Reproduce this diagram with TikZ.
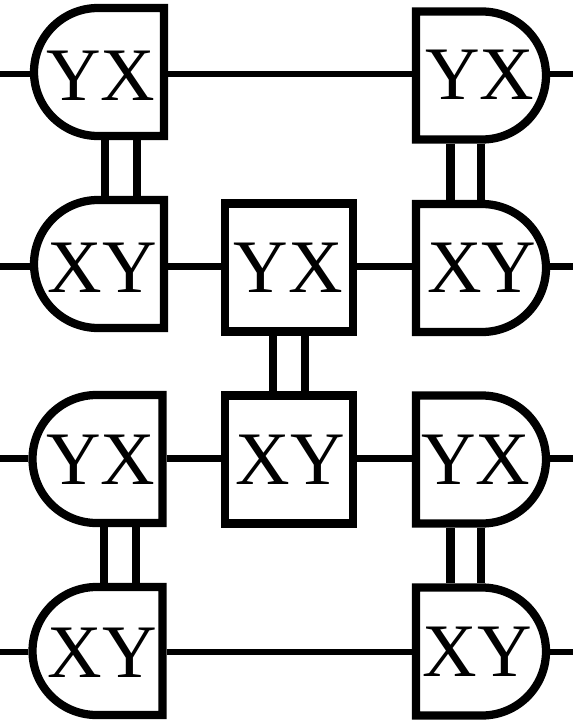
\documentclass[tikz,border=0pt]{standalone}
\usepackage{fontspec}
\setmainfont{Liberation Serif}
\usetikzlibrary{positioning, shapes.misc}

\begin{document}
\begin{tikzpicture}[
    gate/.style={draw, line width=0.165cm, inner sep=0pt, minimum height=2.56cm},
    sqgate/.style={gate, rectangle, minimum width=2.56cm},
    lgate/.style={gate, rounded rectangle, rounded rectangle right arc=none,
                  minimum width=2.60cm},
    rgate/.style={gate, rounded rectangle, rounded rectangle left arc=none,
                  minimum width=2.60cm},
    gatetext/.style={inner sep=0pt, font=\fontsize{43}{43}\selectfont},
    wire/.style={line width=0.125cm},
    bond/.style={line width=0.165cm}
  ]
  \useasboundingbox (0, 0) rectangle (11.46, -14.46);

  % Left column
  \node[lgate] (l1) at (1.98, -1.44) {};
  \node[lgate] (l2) at (1.98, -5.28) {};
  \node[lgate] (l3) at (1.95, -9.18) {};
  \node[lgate] (l4) at (1.95, -13.02) {};

  % Middle column
  \node[sqgate] (m2) at (5.78, -5.35) {};
  \node[sqgate] (m3) at (5.78, -9.19) {};

  % Right column
  \node[rgate] (r1) at (9.62, -1.51) {};
  \node[rgate] (r2) at (9.62, -5.36) {};
  \node[rgate] (r3) at (9.62, -9.19) {};
  \node[rgate] (r4) at (9.62, -13.03) {};

  % Gate labels
  \node[gatetext] (tl1) at (2.02, -1.52) {YX};
  \node[gatetext] (tl2) at (2.05, -5.36) {XY};
  \node[gatetext] (tl3) at (2.02, -9.20) {YX};
  \node[gatetext] (tl4) at (2.05, -13.05) {XY};
  \node[gatetext] (tm2) at (5.77, -5.36) {YX};
  \node[gatetext] (tm3) at (5.81, -9.20) {XY};
  \node[gatetext] (tr1) at (9.60, -1.50) {YX};
  \node[gatetext] (tr2) at (9.64, -5.36) {XY};
  \node[gatetext] (tr3) at (9.52, -9.20) {YX};
  \node[gatetext] (tr4) at (9.55, -13.04) {XY};

  % Free wire ends
  \coordinate (a1) at (0, -1.48);
  \coordinate (a2) at (0, -5.33);
  \coordinate (a3) at (0, -9.17);
  \coordinate (a4) at (0, -13.04);
  \coordinate (b1) at (11.46, -1.48);
  \coordinate (b2) at (11.46, -5.33);
  \coordinate (b3) at (11.46, -9.17);
  \coordinate (b4) at (11.46, -13.04);

  % Wires
  \draw[wire] (a1) -- (a1 -| l1.west);
  \draw[wire] (a2) -- (a2 -| l2.west);
  \draw[wire] (a3) -- (a3 -| l3.west);
  \draw[wire] (a4) -- (a4 -| l4.west);
  \draw[wire] (a1 -| l1.east) -- (a1 -| r1.west);
  \draw[wire] (a2 -| l2.east) -- (a2 -| m2.west);
  \draw[wire] (a3 -| l3.east) -- (a3 -| m3.west);
  \draw[wire] (a4 -| l4.east) -- (a4 -| r4.west);
  \draw[wire] (a2 -| m2.east) -- (a2 -| r2.west);
  \draw[wire] (a3 -| m3.east) -- (a3 -| r3.west);
  \draw[wire] (b1 -| r1.east) -- (b1);
  \draw[wire] (b2 -| r2.east) -- (b2);
  \draw[wire] (b3 -| r3.east) -- (b3);
  \draw[wire] (b4 -| r4.east) -- (b4);

  % Double bonds
  \draw[bond] ([xshift=0.12cm]l1.south) -- ([xshift=0.12cm]l2.north);
  \draw[bond] ([xshift=0.76cm]l1.south) -- ([xshift=0.76cm]l2.north);
  \draw[bond] ([xshift=0.13cm]l3.south) -- ([xshift=0.13cm]l4.north);
  \draw[bond] ([xshift=0.77cm]l3.south) -- ([xshift=0.77cm]l4.north);
  \draw[bond] ([xshift=-0.32cm]m2.south) -- ([xshift=-0.32cm]m3.north);
  \draw[bond] ([xshift=0.32cm]m2.south) -- ([xshift=0.32cm]m3.north);
  \draw[bond] ([xshift=-0.61cm]r1.south) -- ([xshift=-0.61cm]r2.north);
  \draw[bond] (r1.south) -- (r2.north);
  \draw[bond] ([xshift=-0.61cm]r3.south) -- ([xshift=-0.61cm]r4.north);
  \draw[bond] (r3.south) -- (r4.north);
\end{tikzpicture}
\end{document}
